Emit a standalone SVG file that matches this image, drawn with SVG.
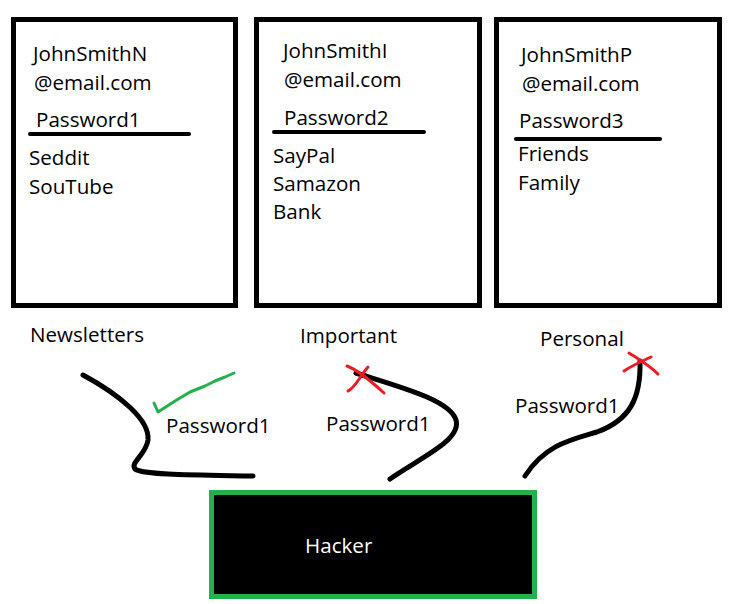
<svg xmlns="http://www.w3.org/2000/svg" width="737" height="604" viewBox="0 0 737 604">
<style>
.box{fill:#fff;stroke:#000;stroke-width:5}
.t{font-family:"Open Sans","Noto Sans",sans-serif;font-size:20.6px;fill:#000}
.ul{stroke:#000;stroke-width:4;stroke-linecap:round}
.c{fill:none;stroke:#000;stroke-width:5;stroke-linecap:round;stroke-linejoin:round}
.x{fill:none;stroke:#ed1c24;stroke-width:3;stroke-linecap:round}
</style>
<rect width="737" height="604" fill="#fff"/>
<g id="newsletters">
<rect class="box" x="13.5" y="19.5" width="222" height="286"/>
<text class="t" x="33" y="61">JohnSmithN</text>
<text class="t" x="34" y="90">@email.com</text>
<text class="t" x="36" y="127">Password1</text>
<line class="ul" x1="30" y1="134" x2="189" y2="134"/>
<text class="t" x="29" y="165">Seddit</text>
<text class="t" x="29" y="194">SouTube</text>
<text class="t" x="30" y="342">Newsletters</text>
</g>
<g id="important">
<rect class="box" x="256.5" y="19.5" width="223" height="286"/>
<text class="t" x="283" y="58">JohnSmithI</text>
<text class="t" x="284" y="87">@email.com</text>
<text class="t" x="284" y="125">Password2</text>
<line class="ul" x1="274" y1="132" x2="424" y2="132"/>
<text class="t" x="273" y="163">SayPal</text>
<text class="t" x="273" y="191">Samazon</text>
<text class="t" x="273" y="219">Bank</text>
<text class="t" x="300" y="343">Important</text>
</g>
<g id="personal">
<rect class="box" x="496.5" y="19.5" width="223" height="286"/>
<text class="t" x="521" y="62">JohnSmithP</text>
<text class="t" x="522" y="91">@email.com</text>
<text class="t" x="519" y="128">Password3</text>
<line class="ul" x1="516" y1="139" x2="660" y2="139"/>
<text class="t" x="518" y="161">Friends</text>
<text class="t" x="518" y="190">Family</text>
<text class="t" x="540" y="346">Personal</text>
</g>
<g id="hacker">
<rect x="211.5" y="492.5" width="323" height="104" fill="#000" stroke="#22b14c" stroke-width="5"/>
<text class="t" x="305" y="553" style="fill:#fff">Hacker</text>
</g>
<g id="connectors">
<path class="c" d="M83,375 C120,395 150,420 148,440 C146,455 130,462 135,469 C142,475 200,475 253,476"/>
<path fill="none" stroke="#22b14c" stroke-width="3" stroke-linecap="round" stroke-linejoin="round" d="M154,403 L158,412 L175,401 L190,392 L205,386 L215,381 L225,377 L234,373"/>
<text class="t" x="166" y="433">Password1</text>
<path class="c" d="M390,479 C420,458 462,440 456,420 C450,400 400,387 356,373"/>
<path class="x" d="M347,366 C358,370 372,382 384,393"/>
<path class="x" d="M368,367 C360,376 355,388 348,391"/>
<text class="t" x="326" y="431">Password1</text>
<path class="c" d="M525,476 C545,445 570,440 597,432 C630,420 641,398 640,361"/>
<path class="x" d="M629,353 C640,360 650,366 658,374"/>
<path class="x" d="M624,371 C633,365 642,361 651,357"/>
<text class="t" x="515" y="413">Password1</text>
</g>
</svg>
